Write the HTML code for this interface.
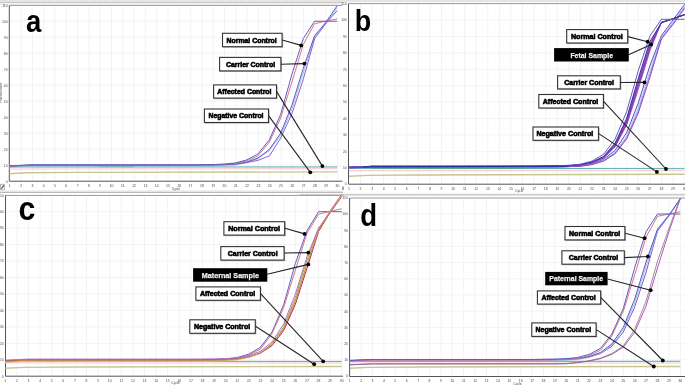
<!DOCTYPE html>
<html><head><meta charset="utf-8"><title>qPCR amplification panels</title>
<style>
html,body{margin:0;padding:0;background:#fff;width:685px;height:385px;overflow:hidden}
svg{display:block;filter:blur(0.6px)}
text{font-family:"Liberation Sans",sans-serif}
.yl{font-size:3.3px;fill:#444;text-anchor:end}
.xl{font-size:3.4px;fill:#444;text-anchor:middle}
.big{font-size:32px;font-weight:bold;fill:#000}
.lb{font-weight:bold;fill:#000;stroke:#000;stroke-width:0.6px}
.lbw{font-weight:bold;fill:#f2f2f2;stroke:#f2f2f2;stroke-width:0.25px}
</style></head>
<body><svg width="685" height="385" viewBox="0 0 685 385">
<rect x="0" y="0" width="685" height="385" fill="#fff"/>
<rect x="0" y="0" width="685" height="2.2" fill="#e4e4e4"/>
<path d="M0 2.6H343" stroke="#b4b4b4" stroke-width="0.8"/>
<rect x="0" y="3" width="343" height="2.2" fill="#f2f2f2"/>
<rect x="0" y="190.2" width="343" height="2.0" fill="#ededed"/>
<path d="M0 192.4H343" stroke="#a8a8a8" stroke-width="0.9"/>
<rect x="343" y="193.2" width="342" height="1.2" fill="#f2f2f2"/>
<path d="M300 194.9H685" stroke="#a8a8a8" stroke-width="0.9"/>
<rect x="0.4" y="184.2" width="4.2" height="5.6" fill="#f4f4f4" stroke="#9a9a9a" stroke-width="0.6"/>
<path d="M1.2 188.6L4.2 185.2" stroke="#555" stroke-width="1.2"/>
<path d="M343 186.6V190" stroke="#777" stroke-width="1.3"/>
<rect x="9.3" y="5.4" width="333" height="175.8" fill="#fff"/>
<path d="M21.1 5.4V181.2M32.4 5.4V181.2M43.7 5.4V181.2M55 5.4V181.2M66.3 5.4V181.2M77.6 5.4V181.2M88.9 5.4V181.2M100.2 5.4V181.2M111.5 5.4V181.2M122.8 5.4V181.2M134.1 5.4V181.2M145.4 5.4V181.2M156.7 5.4V181.2M168 5.4V181.2M179.3 5.4V181.2M190.6 5.4V181.2M201.9 5.4V181.2M213.2 5.4V181.2M224.5 5.4V181.2M235.8 5.4V181.2M247.1 5.4V181.2M258.4 5.4V181.2M269.7 5.4V181.2M281 5.4V181.2M292.3 5.4V181.2M303.6 5.4V181.2M314.9 5.4V181.2M326.2 5.4V181.2M337.5 5.4V181.2M9.3 165.2H342.3M9.3 149.2H342.3M9.3 133.2H342.3M9.3 117.2H342.3M9.3 101.2H342.3M9.3 85.2H342.3M9.3 69.2H342.3M9.3 53.2H342.3M9.3 37.2H342.3M9.3 21.2H342.3" stroke="#f3f3f3" stroke-width="1" fill="none"/>
<path d="M9.3 5.4H342.3" stroke="#9a9a9a" stroke-width="1"/>
<path d="M9.3 5.4V181.2H342.3" stroke="#555555" stroke-width="1.0" fill="none"/>
<text x="7.5" y="182.5" class="yl">0</text>
<text x="7.5" y="166.5" class="yl">10</text>
<text x="7.5" y="150.5" class="yl">20</text>
<text x="7.5" y="134.5" class="yl">30</text>
<text x="7.5" y="118.5" class="yl">40</text>
<text x="7.5" y="102.5" class="yl">50</text>
<text x="7.5" y="86.5" class="yl">60</text>
<text x="7.5" y="70.5" class="yl">70</text>
<text x="7.5" y="54.5" class="yl">80</text>
<text x="7.5" y="38.5" class="yl">90</text>
<text x="7.5" y="22.5" class="yl">100</text>
<text x="7.5" y="6.5" class="yl">110</text>
<text x="9.8" y="186.8" class="xl">1</text>
<text x="21.1" y="186.8" class="xl">2</text>
<text x="32.4" y="186.8" class="xl">3</text>
<text x="43.7" y="186.8" class="xl">4</text>
<text x="55" y="186.8" class="xl">5</text>
<text x="66.3" y="186.8" class="xl">6</text>
<text x="77.6" y="186.8" class="xl">7</text>
<text x="88.9" y="186.8" class="xl">8</text>
<text x="100.2" y="186.8" class="xl">9</text>
<text x="111.5" y="186.8" class="xl">10</text>
<text x="122.8" y="186.8" class="xl">11</text>
<text x="134.1" y="186.8" class="xl">12</text>
<text x="145.4" y="186.8" class="xl">13</text>
<text x="156.7" y="186.8" class="xl">14</text>
<text x="168" y="186.8" class="xl">15</text>
<text x="179.3" y="186.8" class="xl">16</text>
<text x="190.6" y="186.8" class="xl">17</text>
<text x="201.9" y="186.8" class="xl">18</text>
<text x="213.2" y="186.8" class="xl">19</text>
<text x="224.5" y="186.8" class="xl">20</text>
<text x="235.8" y="186.8" class="xl">21</text>
<text x="247.1" y="186.8" class="xl">22</text>
<text x="258.4" y="186.8" class="xl">23</text>
<text x="269.7" y="186.8" class="xl">24</text>
<text x="281" y="186.8" class="xl">25</text>
<text x="292.3" y="186.8" class="xl">26</text>
<text x="303.6" y="186.8" class="xl">27</text>
<text x="314.9" y="186.8" class="xl">28</text>
<text x="326.2" y="186.8" class="xl">29</text>
<text x="337.5" y="186.8" class="xl">30</text>
<text x="176" y="189.6" class="xl">Cycle</text>
<text transform="translate(1.9 92.7) rotate(-90)" class="xl">Fluorescence</text>
<text transform="translate(25.94 32.16) scale(0.860 0.960)" class="big">a</text>
<path d="M9.45 173.68 L27.53 172.8 L77.25 172.4 L337.15 171.92" stroke="#c6c690" stroke-width="1.4" fill="none"/>
<path d="M9.45 169.04L337.15 168.72" stroke="#f6c8ce" stroke-width="1" fill="none"/>
<path d="M9.45 166.96L337.15 166.96" stroke="#5aa8a8" stroke-width="1" fill="none"/>
<path d="M99.85 166.64L133.75 166.72" stroke="#48b078" stroke-width="0.9" fill="none"/>
<path d="M9.45 167.12 L20.75 166.64 L32.05 166.16 L43.35 166.16 L54.65 166.16 L65.95 166.16 L77.25 166.16 L88.55 166.16 L99.85 166.16 L111.15 166.16 L122.45 166.16 L133.75 166.16 L145.05 166.16 L156.35 166.16 L167.65 166.16 L178.95 166.16 L190.25 166.16 L201.55 166.09 L212.85 166.01 L224.15 165.72 L235.45 164.88 L246.75 162.75 L258.05 158.76 L269.35 150.62 L280.65 135.32 L291.95 108.84 L303.25 73.18 L314.55 37.2 L325.85 24.07 L337.15 7.98" stroke="#88bedc" stroke-width="0.9" fill="none" stroke-linejoin="round"/>
<path d="M9.45 165.92 L20.75 165.44 L32.05 164.96 L43.35 164.96 L54.65 164.96 L65.95 164.96 L77.25 164.96 L88.55 164.96 L99.85 164.96 L111.15 164.96 L122.45 164.96 L133.75 164.96 L145.05 164.96 L156.35 164.96 L167.65 164.96 L178.95 164.96 L190.25 164.96 L201.55 164.9 L212.85 164.82 L224.15 164.58 L235.45 164.09 L246.75 162.5 L258.05 160.34 L269.35 155.92 L280.65 138.1 L291.95 113.6 L303.25 79.44 L314.55 38.8 L325.85 23.12 L337.15 10.78" stroke="#9a5ad0" stroke-width="1" fill="none" stroke-linejoin="round"/>
<path d="M9.45 166.16 L20.75 165.68 L32.05 165.2 L43.35 165.2 L54.65 165.2 L65.95 165.2 L77.25 165.2 L88.55 165.2 L99.85 165.2 L111.15 165.2 L122.45 165.2 L133.75 165.2 L145.05 165.2 L156.35 165.2 L167.65 165.2 L178.95 165.2 L190.25 165.2 L201.55 165.12 L212.85 165.04 L224.15 164.72 L235.45 164.08 L246.75 162 L258.05 158 L269.35 149.52 L280.65 133.2 L291.95 105.2 L303.25 68.4 L314.55 35.76 L325.85 22.32 L337.15 5.84" stroke="#5a58d0" stroke-width="1" fill="none" stroke-linejoin="round"/>
<path d="M9.45 166 L20.75 165.52 L32.05 165.04 L43.35 165.04 L54.65 165.04 L65.95 165.04 L77.25 165.04 L88.55 165.04 L99.85 165.04 L111.15 165.04 L122.45 165.04 L133.75 165.04 L145.05 165.04 L156.35 165.04 L167.65 165.04 L178.95 165.04 L190.25 165.04 L201.55 164.88 L212.85 164.72 L224.15 164.24 L235.45 163.48 L246.75 160.96 L258.05 155.88 L269.35 142 L280.65 118 L291.95 82 L303.25 44.4 L314.55 23.76 L325.85 21.2 L337.15 18.8" stroke="#dc7486" stroke-width="1" fill="none" stroke-linejoin="round"/>
<path d="M9.45 165.84 L20.75 165.36 L32.05 164.88 L43.35 164.88 L54.65 164.88 L65.95 164.88 L77.25 164.88 L88.55 164.88 L99.85 164.88 L111.15 164.88 L122.45 164.88 L133.75 164.88 L145.05 164.88 L156.35 164.88 L167.65 164.88 L178.95 164.88 L190.25 164.88 L201.55 164.72 L212.85 164.56 L224.15 164.08 L235.45 162.88 L246.75 159.92 L258.05 153.92 L269.35 139.76 L280.65 114.48 L291.95 74.16 L303.25 38.64 L314.55 21.2 L325.85 21.2 L337.15 21.2" stroke="#5860c8" stroke-width="1" fill="none" stroke-linejoin="round"/>
<rect x="223" y="33.8" width="60.2" height="14" fill="#b8b8b8"/>
<rect x="222.5" y="33.3" width="59.6" height="13.4" fill="#fff" stroke="#333" stroke-width="1.1"/>
<text x="226.5" y="42.65" class="lb" textLength="50.2" lengthAdjust="spacingAndGlyphs" style="font-size:7.15px">Normal Control</text>
<rect x="220.1" y="57.9" width="61.9" height="14.1" fill="#b8b8b8"/>
<rect x="219.6" y="57.4" width="61.3" height="13.5" fill="#fff" stroke="#333" stroke-width="1.1"/>
<text x="226" y="66.8" class="lb" textLength="49.2" lengthAdjust="spacingAndGlyphs" style="font-size:7.15px">Carrier Control</text>
<rect x="214.1" y="85.4" width="63.5" height="13.8" fill="#b8b8b8"/>
<rect x="213.6" y="84.9" width="62.9" height="13.2" fill="#fff" stroke="#333" stroke-width="1.1"/>
<text x="217.3" y="94.15" class="lb" textLength="54.2" lengthAdjust="spacingAndGlyphs" style="font-size:7.15px">Affected Control</text>
<rect x="204.9" y="109.5" width="64.7" height="14.1" fill="#b8b8b8"/>
<rect x="204.4" y="109" width="64.1" height="13.5" fill="#fff" stroke="#333" stroke-width="1.1"/>
<text x="208.5" y="118.4" class="lb" textLength="55" lengthAdjust="spacingAndGlyphs" style="font-size:7.15px">Negative Control</text>
<path d="M282.2 40L301.2 45.4" stroke="#262626" stroke-width="1.1"/>
<circle cx="301.2" cy="45.4" r="1.9" fill="#000"/>
<path d="M281 64.2L304.4 63.6" stroke="#262626" stroke-width="1.1"/>
<circle cx="304.4" cy="63.6" r="1.9" fill="#000"/>
<path d="M276.7 91.6L322.4 166.1" stroke="#262626" stroke-width="1.1"/>
<circle cx="322.4" cy="166.1" r="1.9" fill="#000"/>
<path d="M268.7 115.8L310.3 172.3" stroke="#262626" stroke-width="1.1"/>
<circle cx="310.3" cy="172.3" r="1.9" fill="#000"/>
<rect x="348.5" y="3.6" width="337.5" height="180.6" fill="#fff"/>
<path d="M360.5 3.6V184.2M372.08 3.6V184.2M383.65 3.6V184.2M395.22 3.6V184.2M406.8 3.6V184.2M418.37 3.6V184.2M429.94 3.6V184.2M441.51 3.6V184.2M453.09 3.6V184.2M464.66 3.6V184.2M476.23 3.6V184.2M487.81 3.6V184.2M499.38 3.6V184.2M510.95 3.6V184.2M522.52 3.6V184.2M534.1 3.6V184.2M545.67 3.6V184.2M557.24 3.6V184.2M568.82 3.6V184.2M580.39 3.6V184.2M591.96 3.6V184.2M603.54 3.6V184.2M615.11 3.6V184.2M626.68 3.6V184.2M638.25 3.6V184.2M649.83 3.6V184.2M661.4 3.6V184.2M672.97 3.6V184.2M684.55 3.6V184.2M348.5 167.7H686M348.5 151.3H686M348.5 134.9H686M348.5 118.5H686M348.5 102.1H686M348.5 85.7H686M348.5 69.3H686M348.5 52.9H686M348.5 36.5H686M348.5 20.1H686" stroke="#f3f3f3" stroke-width="1" fill="none"/>
<path d="M348.5 3.6H686" stroke="#9a9a9a" stroke-width="1"/>
<path d="M348.5 3.6V184.2H686" stroke="#555555" stroke-width="1.0" fill="none"/>
<text x="346.7" y="185.4" class="yl">0</text>
<text x="346.7" y="169" class="yl">10</text>
<text x="346.7" y="152.6" class="yl">20</text>
<text x="346.7" y="136.2" class="yl">30</text>
<text x="346.7" y="119.8" class="yl">40</text>
<text x="346.7" y="103.4" class="yl">50</text>
<text x="346.7" y="87" class="yl">60</text>
<text x="346.7" y="70.6" class="yl">70</text>
<text x="346.7" y="54.2" class="yl">80</text>
<text x="346.7" y="37.8" class="yl">90</text>
<text x="346.7" y="21.4" class="yl">100</text>
<text x="346.7" y="5" class="yl">110</text>
<text x="348.93" y="189.8" class="xl">1</text>
<text x="360.5" y="189.8" class="xl">2</text>
<text x="372.08" y="189.8" class="xl">3</text>
<text x="383.65" y="189.8" class="xl">4</text>
<text x="395.22" y="189.8" class="xl">5</text>
<text x="406.8" y="189.8" class="xl">6</text>
<text x="418.37" y="189.8" class="xl">7</text>
<text x="429.94" y="189.8" class="xl">8</text>
<text x="441.51" y="189.8" class="xl">9</text>
<text x="453.09" y="189.8" class="xl">10</text>
<text x="464.66" y="189.8" class="xl">11</text>
<text x="476.23" y="189.8" class="xl">12</text>
<text x="487.81" y="189.8" class="xl">13</text>
<text x="499.38" y="189.8" class="xl">14</text>
<text x="510.95" y="189.8" class="xl">15</text>
<text x="522.52" y="189.8" class="xl">16</text>
<text x="534.1" y="189.8" class="xl">17</text>
<text x="545.67" y="189.8" class="xl">18</text>
<text x="557.24" y="189.8" class="xl">19</text>
<text x="568.82" y="189.8" class="xl">20</text>
<text x="580.39" y="189.8" class="xl">21</text>
<text x="591.96" y="189.8" class="xl">22</text>
<text x="603.54" y="189.8" class="xl">23</text>
<text x="615.11" y="189.8" class="xl">24</text>
<text x="626.68" y="189.8" class="xl">25</text>
<text x="638.25" y="189.8" class="xl">26</text>
<text x="649.83" y="189.8" class="xl">27</text>
<text x="661.4" y="189.8" class="xl">28</text>
<text x="672.97" y="189.8" class="xl">29</text>
<text x="684.55" y="189.8" class="xl">30</text>
<text x="519.2" y="192.4" class="xl">Cycle</text>
<text transform="translate(354.81 31.26) scale(0.843 0.945)" class="big">b</text>
<path d="M348.93 176.31 L367.45 175.41 L418.37 175 L684.55 174.26" stroke="#c6c690" stroke-width="1.4" fill="none"/>
<path d="M348.93 170.65L684.55 170.65" stroke="#f6c8ce" stroke-width="1" fill="none"/>
<path d="M348.93 168.36L684.55 168.68" stroke="#5aa8a8" stroke-width="1" fill="none"/>
<path d="M372.08 168.19L522.52 168.36" stroke="#48b078" stroke-width="0.9" fill="none"/>
<path d="M348.93 168.03 L360.5 167.54 L372.08 167.04 L383.65 167.04 L395.22 167.04 L406.8 167.04 L418.37 167.04 L429.94 167.04 L441.51 167.04 L453.09 167.04 L464.66 167.04 L476.23 167.04 L487.81 167.04 L499.38 167.04 L510.95 167.04 L522.52 167.04 L534.1 167.04 L545.67 166.96 L557.24 166.85 L568.82 166.5 L580.39 165.89 L591.96 163.76 L603.54 159.46 L615.11 150.29 L626.68 132.6 L638.25 103.18 L649.83 65.8 L661.4 35.68 L672.97 19.9 L684.55 4.36" stroke="#4a50d0" stroke-width="1" fill="none" stroke-linejoin="round"/>
<path d="M348.93 168.03 L360.5 167.54 L372.08 167.04 L383.65 167.04 L395.22 167.04 L406.8 167.04 L418.37 167.04 L429.94 167.04 L441.51 167.04 L453.09 167.04 L464.66 167.04 L476.23 167.04 L487.81 167.04 L499.38 167.04 L510.95 167.04 L522.52 167.04 L534.1 167.04 L545.67 166.97 L557.24 166.88 L568.82 166.57 L580.39 166.1 L591.96 164.22 L603.54 160.4 L615.11 152.15 L626.68 135.9 L638.25 107.92 L649.83 70.74 L661.4 36.83 L672.97 22.07 L684.55 5.37" stroke="#8ac8e8" stroke-width="0.8" fill="none" stroke-linejoin="round"/>
<path d="M348.93 168.03 L360.5 167.54 L372.08 167.04 L383.65 167.04 L395.22 167.04 L406.8 167.04 L418.37 167.04 L429.94 167.04 L441.51 167.04 L453.09 167.04 L464.66 167.04 L476.23 167.04 L487.81 167.04 L499.38 167.04 L510.95 167.04 L522.52 167.04 L534.1 167.04 L545.67 166.98 L557.24 166.89 L568.82 166.6 L580.39 166.16 L591.96 164.43 L603.54 160.81 L615.11 153.02 L626.68 137.58 L638.25 110.79 L649.83 74.52 L661.4 38.14 L672.97 23.45 L684.55 7.06" stroke="#b070d0" stroke-width="0.9" fill="none" stroke-linejoin="round"/>
<path d="M348.93 168.03 L360.5 167.54 L372.08 167.04 L383.65 167.04 L395.22 167.04 L406.8 167.04 L418.37 167.04 L429.94 167.04 L441.51 167.04 L453.09 167.04 L464.66 167.04 L476.23 167.04 L487.81 167.04 L499.38 167.04 L510.95 167.04 L522.52 167.04 L534.1 167.04 L545.67 166.98 L557.24 166.9 L568.82 166.63 L580.39 166.22 L591.96 164.6 L603.54 161.14 L615.11 153.71 L626.68 138.91 L638.25 113.09 L649.83 77.53 L661.4 38.96 L672.97 24.55 L684.55 8.41" stroke="#9048c0" stroke-width="1" fill="none" stroke-linejoin="round"/>
<path d="M348.93 167.37 L360.5 166.88 L372.08 166.39 L383.65 166.39 L395.22 166.39 L406.8 166.39 L418.37 166.39 L429.94 166.39 L441.51 166.39 L453.09 166.39 L464.66 166.39 L476.23 166.39 L487.81 166.39 L499.38 166.39 L510.95 166.39 L522.52 166.39 L534.1 166.39 L545.67 166.28 L557.24 166.12 L568.82 165.75 L580.39 165.06 L591.96 162.92 L603.54 158.14 L615.11 146.88 L626.68 125.04 L638.25 89.26 L649.83 51.08 L661.4 22.3 L672.97 18.79 L684.55 14.69" stroke="#9a58c8" stroke-width="1" fill="none" stroke-linejoin="round"/>
<path d="M348.93 167.37 L360.5 166.88 L372.08 166.39 L383.65 166.39 L395.22 166.39 L406.8 166.39 L418.37 166.39 L429.94 166.39 L441.51 166.39 L453.09 166.39 L464.66 166.39 L476.23 166.39 L487.81 166.39 L499.38 166.39 L510.95 166.39 L522.52 166.39 L534.1 166.39 L545.67 166.27 L557.24 166.11 L568.82 165.72 L580.39 164.98 L591.96 162.73 L603.54 157.76 L615.11 146 L626.68 123.49 L638.25 86.78 L649.83 48.9 L661.4 22.4 L672.97 18.79 L684.55 14.69" stroke="#8a40b0" stroke-width="1" fill="none" stroke-linejoin="round"/>
<path d="M348.93 167.37 L360.5 166.88 L372.08 166.39 L383.65 166.39 L395.22 166.39 L406.8 166.39 L418.37 166.39 L429.94 166.39 L441.51 166.39 L453.09 166.39 L464.66 166.39 L476.23 166.39 L487.81 166.39 L499.38 166.39 L510.95 166.39 L522.52 166.39 L534.1 166.39 L545.67 166.26 L557.24 166.1 L568.82 165.69 L580.39 164.91 L591.96 162.57 L603.54 157.45 L615.11 145.27 L626.68 122.19 L638.25 84.72 L649.83 47.08 L661.4 22.48 L672.97 18.79 L684.55 14.69" stroke="#7a3ab8" stroke-width="1" fill="none" stroke-linejoin="round"/>
<path d="M348.93 167.37 L360.5 166.88 L372.08 166.39 L383.65 166.39 L395.22 166.39 L406.8 166.39 L418.37 166.39 L429.94 166.39 L441.51 166.39 L453.09 166.39 L464.66 166.39 L476.23 166.39 L487.81 166.39 L499.38 166.39 L510.95 166.39 L522.52 166.39 L534.1 166.39 L545.67 166.26 L557.24 166.09 L568.82 165.67 L580.39 164.85 L591.96 162.42 L603.54 157.14 L615.11 144.54 L626.68 120.89 L638.25 82.65 L649.83 45.26 L661.4 22.56 L672.97 18.79 L684.55 14.69" stroke="#6a3ab8" stroke-width="1" fill="none" stroke-linejoin="round"/>
<path d="M348.93 167.37 L360.5 166.88 L372.08 166.39 L383.65 166.39 L395.22 166.39 L406.8 166.39 L418.37 166.39 L429.94 166.39 L441.51 166.39 L453.09 166.39 L464.66 166.39 L476.23 166.39 L487.81 166.39 L499.38 166.39 L510.95 166.39 L522.52 166.39 L534.1 166.39 L545.67 166.25 L557.24 166.08 L568.82 165.64 L580.39 164.78 L591.96 162.26 L603.54 156.83 L615.11 143.81 L626.68 119.6 L638.25 80.58 L649.83 43.44 L661.4 22.64 L672.97 18.79 L684.55 14.69" stroke="#b04a90" stroke-width="1" fill="none" stroke-linejoin="round"/>
<path d="M348.93 167.37 L360.5 166.88 L372.08 166.39 L383.65 166.39 L395.22 166.39 L406.8 166.39 L418.37 166.39 L429.94 166.39 L441.51 166.39 L453.09 166.39 L464.66 166.39 L476.23 166.39 L487.81 166.39 L499.38 166.39 L510.95 166.39 L522.52 166.39 L534.1 166.39 L545.67 166.24 L557.24 166.08 L568.82 165.62 L580.39 164.72 L591.96 162.11 L603.54 156.52 L615.11 143.08 L626.68 118.3 L638.25 78.52 L649.83 41.62 L661.4 22.72 L672.97 18.79 L684.55 14.69" stroke="#3a2aa8" stroke-width="1" fill="none" stroke-linejoin="round"/>
<path d="M348.93 167.21 L360.5 166.72 L372.08 166.22 L383.65 166.22 L395.22 166.22 L406.8 166.22 L418.37 166.22 L429.94 166.22 L441.51 166.22 L453.09 166.22 L464.66 166.22 L476.23 166.22 L487.81 166.22 L499.38 166.22 L510.95 166.22 L522.52 166.22 L534.1 166.21 L545.67 166.04 L557.24 165.85 L568.82 165.27 L580.39 164.15 L591.96 161.09 L603.54 154.39 L615.11 139.03 L626.68 111.58 L638.25 70.74 L649.83 36.19 L661.4 19.28 L672.97 19.28 L684.55 19.28" stroke="#5860c8" stroke-width="1" fill="none" stroke-linejoin="round"/>
<path d="M362.82 166.88L568.82 166.22" stroke="#2830a0" stroke-width="1.2" fill="none"/>
<rect x="567.2" y="30.1" width="61.6" height="14" fill="#b8b8b8"/>
<rect x="566.7" y="29.6" width="61" height="13.4" fill="#fff" stroke="#333" stroke-width="1.1"/>
<text x="570.9" y="38.95" class="lb" textLength="51.9" lengthAdjust="spacingAndGlyphs" style="font-size:7.15px">Normal Control</text>
<rect x="554.1" y="48.1" width="74.7" height="13.4" fill="#000"/>
<text x="570.4" y="57.55" class="lbw" textLength="42.7" lengthAdjust="spacingAndGlyphs" style="font-size:7.9px">Fetal Sample</text>
<rect x="558.1" y="76.3" width="63.3" height="13.7" fill="#b8b8b8"/>
<rect x="557.6" y="75.8" width="62.7" height="13.1" fill="#fff" stroke="#333" stroke-width="1.1"/>
<text x="564.2" y="85" class="lb" textLength="49.8" lengthAdjust="spacingAndGlyphs" style="font-size:7.15px">Carrier Control</text>
<rect x="539.3" y="95" width="65.2" height="14.1" fill="#b8b8b8"/>
<rect x="538.8" y="94.5" width="64.6" height="13.5" fill="#fff" stroke="#333" stroke-width="1.1"/>
<text x="542.7" y="103.9" class="lb" textLength="55.5" lengthAdjust="spacingAndGlyphs" style="font-size:7.15px">Affected Control</text>
<rect x="533.5" y="127.5" width="66.1" height="13.9" fill="#b8b8b8"/>
<rect x="533" y="127" width="65.5" height="13.3" fill="#fff" stroke="#333" stroke-width="1.1"/>
<text x="536.4" y="136.3" class="lb" textLength="56.9" lengthAdjust="spacingAndGlyphs" style="font-size:7.15px">Negative Control</text>
<path d="M627.8 36.6L647.6 41.7" stroke="#262626" stroke-width="1.1"/>
<circle cx="647.6" cy="41.7" r="1.9" fill="#000"/>
<path d="M628.6 54.8L651.2 44.4" stroke="#262626" stroke-width="1.1"/>
<circle cx="651.2" cy="44.4" r="1.9" fill="#000"/>
<path d="M620.4 82.5L644.5 82.4" stroke="#262626" stroke-width="1.1"/>
<circle cx="644.5" cy="82.4" r="1.9" fill="#000"/>
<path d="M603.6 101.4L666 169" stroke="#262626" stroke-width="1.1"/>
<circle cx="666" cy="169" r="1.9" fill="#000"/>
<path d="M598.7 133.6L656.9 171.9" stroke="#262626" stroke-width="1.1"/>
<circle cx="656.9" cy="171.9" r="1.9" fill="#000"/>
<rect x="5.5" y="195.4" width="337.5" height="180.8" fill="#fff"/>
<path d="M16.9 195.4V376.2M28.5 195.4V376.2M40.1 195.4V376.2M51.7 195.4V376.2M63.3 195.4V376.2M74.9 195.4V376.2M86.5 195.4V376.2M98.1 195.4V376.2M109.7 195.4V376.2M121.3 195.4V376.2M132.9 195.4V376.2M144.5 195.4V376.2M156.1 195.4V376.2M167.7 195.4V376.2M179.3 195.4V376.2M190.9 195.4V376.2M202.5 195.4V376.2M214.1 195.4V376.2M225.7 195.4V376.2M237.3 195.4V376.2M248.9 195.4V376.2M260.5 195.4V376.2M272.1 195.4V376.2M283.7 195.4V376.2M295.3 195.4V376.2M306.9 195.4V376.2M318.5 195.4V376.2M330.1 195.4V376.2M341.7 195.4V376.2M5.5 359.75H343M5.5 343.3H343M5.5 326.85H343M5.5 310.4H343M5.5 293.95H343M5.5 277.5H343M5.5 261.05H343M5.5 244.6H343M5.5 228.15H343M5.5 211.7H343" stroke="#f3f3f3" stroke-width="1" fill="none"/>
<path d="M5.5 195.4H343" stroke="#9a9a9a" stroke-width="1"/>
<path d="M5.5 195.4V376.2H343" stroke="#555555" stroke-width="1.0" fill="none"/>
<text x="3.7" y="377.5" class="yl">0</text>
<text x="3.7" y="361.05" class="yl">10</text>
<text x="3.7" y="344.6" class="yl">20</text>
<text x="3.7" y="328.15" class="yl">30</text>
<text x="3.7" y="311.7" class="yl">40</text>
<text x="3.7" y="295.25" class="yl">50</text>
<text x="3.7" y="278.8" class="yl">60</text>
<text x="3.7" y="262.35" class="yl">70</text>
<text x="3.7" y="245.9" class="yl">80</text>
<text x="3.7" y="229.45" class="yl">90</text>
<text x="3.7" y="213" class="yl">100</text>
<text x="3.7" y="196.55" class="yl">110</text>
<text x="5.3" y="381.8" class="xl">1</text>
<text x="16.9" y="381.8" class="xl">2</text>
<text x="28.5" y="381.8" class="xl">3</text>
<text x="40.1" y="381.8" class="xl">4</text>
<text x="51.7" y="381.8" class="xl">5</text>
<text x="63.3" y="381.8" class="xl">6</text>
<text x="74.9" y="381.8" class="xl">7</text>
<text x="86.5" y="381.8" class="xl">8</text>
<text x="98.1" y="381.8" class="xl">9</text>
<text x="109.7" y="381.8" class="xl">10</text>
<text x="121.3" y="381.8" class="xl">11</text>
<text x="132.9" y="381.8" class="xl">12</text>
<text x="144.5" y="381.8" class="xl">13</text>
<text x="156.1" y="381.8" class="xl">14</text>
<text x="167.7" y="381.8" class="xl">15</text>
<text x="179.3" y="381.8" class="xl">16</text>
<text x="190.9" y="381.8" class="xl">17</text>
<text x="202.5" y="381.8" class="xl">18</text>
<text x="214.1" y="381.8" class="xl">19</text>
<text x="225.7" y="381.8" class="xl">20</text>
<text x="237.3" y="381.8" class="xl">21</text>
<text x="248.9" y="381.8" class="xl">22</text>
<text x="260.5" y="381.8" class="xl">23</text>
<text x="272.1" y="381.8" class="xl">24</text>
<text x="283.7" y="381.8" class="xl">25</text>
<text x="295.3" y="381.8" class="xl">26</text>
<text x="306.9" y="381.8" class="xl">27</text>
<text x="318.5" y="381.8" class="xl">28</text>
<text x="330.1" y="381.8" class="xl">29</text>
<text x="341.7" y="381.8" class="xl">30</text>
<text x="175.5" y="384.3" class="xl">Cycle</text>
<text transform="translate(18.41 220.04) scale(0.948 1.034)" class="big">c</text>
<path d="M5.3 368.3 L23.86 367.4 L74.9 366.99 L341.7 366.49" stroke="#c6c690" stroke-width="1.4" fill="none"/>
<path d="M5.3 362.88L341.7 363.04" stroke="#f6c8ce" stroke-width="1" fill="none"/>
<path d="M5.3 361.23L341.7 361.39" stroke="#5aa8a8" stroke-width="1" fill="none"/>
<path d="M5.3 360.9 L16.9 360.41 L28.5 359.91 L40.1 359.91 L51.7 359.91 L63.3 359.91 L74.9 359.91 L86.5 359.91 L98.1 359.91 L109.7 359.91 L121.3 359.91 L132.9 359.91 L144.5 359.91 L156.1 359.91 L167.7 359.91 L179.3 359.91 L190.9 359.9 L202.5 359.74 L214.1 359.55 L225.7 359 L237.3 357.52 L248.9 354.13 L260.5 347.25 L272.1 331.78 L283.7 304.7 L295.3 263.59 L306.9 230.95 L318.5 211.7 L330.1 211.7 L341.7 211.7" stroke="#5860c8" stroke-width="1" fill="none" stroke-linejoin="round"/>
<path d="M5.3 361.39 L16.9 360.9 L28.5 360.41 L40.1 360.41 L51.7 360.41 L63.3 360.41 L74.9 360.41 L86.5 360.41 L98.1 360.41 L109.7 360.41 L121.3 360.41 L132.9 360.41 L144.5 360.41 L156.1 360.41 L167.7 360.41 L179.3 360.41 L190.9 360.39 L202.5 360.23 L214.1 360.03 L225.7 359.5 L237.3 358.34 L248.9 355.28 L260.5 348.94 L272.1 333.43 L283.7 307.52 L295.3 270.34 L306.9 233.43 L318.5 214.17 L330.1 211.37 L341.7 208.74" stroke="#dc7486" stroke-width="1" fill="none" stroke-linejoin="round"/>
<path d="M5.3 360.74 L16.9 360.24 L28.5 359.75 L40.1 359.75 L51.7 359.75 L63.3 359.75 L74.9 359.75 L86.5 359.75 L98.1 359.75 L109.7 359.75 L121.3 359.75 L132.9 359.75 L144.5 359.75 L156.1 359.75 L167.7 359.75 L179.3 359.75 L190.9 359.75 L202.5 359.69 L214.1 359.6 L225.7 359.33 L237.3 358.74 L248.9 356.93 L260.5 353.25 L272.1 345.55 L283.7 330.54 L295.3 304.4 L306.9 268.55 L318.5 231.6 L330.1 212.36 L341.7 195.58" stroke="#b02848" stroke-width="1" fill="none" stroke-linejoin="round"/>
<path d="M5.3 361.89 L16.9 361.39 L28.5 360.9 L40.1 360.9 L51.7 360.9 L63.3 360.9 L74.9 360.9 L86.5 360.9 L98.1 360.9 L109.7 360.9 L121.3 360.9 L132.9 360.9 L144.5 360.9 L156.1 360.9 L167.7 360.9 L179.3 360.9 L190.9 360.9 L202.5 360.82 L214.1 360.74 L225.7 360.41 L237.3 359.46 L248.9 357.04 L260.5 352.64 L272.1 343.63 L283.7 326.85 L295.3 298.06 L306.9 260.23 L318.5 228.81 L330.1 211.37 L341.7 194.92" stroke="#88a850" stroke-width="1" fill="none" stroke-linejoin="round"/>
<path d="M5.3 362.22 L16.9 361.72 L28.5 361.23 L40.1 361.23 L51.7 361.23 L63.3 361.23 L74.9 361.23 L86.5 361.23 L98.1 361.23 L109.7 361.23 L121.3 361.23 L132.9 361.23 L144.5 361.23 L156.1 361.23 L167.7 361.23 L179.3 361.23 L190.9 361.23 L202.5 361.15 L214.1 361.07 L225.7 360.76 L237.3 359.76 L248.9 357.37 L260.5 353.05 L272.1 344.33 L283.7 328.19 L295.3 300.37 L306.9 263.25 L318.5 229.47 L330.1 211.7 L341.7 195.25" stroke="#d8c878" stroke-width="1" fill="none" stroke-linejoin="round"/>
<path d="M5.3 360.08 L16.9 359.59 L28.5 359.09 L40.1 359.09 L51.7 359.09 L63.3 359.09 L74.9 359.09 L86.5 359.09 L98.1 359.09 L109.7 359.09 L121.3 359.09 L132.9 359.09 L144.5 359.09 L156.1 359.09 L167.7 359.09 L179.3 359.09 L190.9 359.08 L202.5 359 L214.1 358.89 L225.7 358.53 L237.3 357.89 L248.9 355.72 L260.5 351.31 L272.1 341.95 L283.7 323.97 L295.3 294.28 L306.9 256.87 L318.5 228.15 L330.1 213.02 L341.7 196.89" stroke="#b070c8" stroke-width="1" fill="none" stroke-linejoin="round"/>
<path d="M5.3 361.23 L16.9 360.74 L28.5 360.24 L40.1 360.24 L51.7 360.24 L63.3 360.24 L74.9 360.24 L86.5 360.24 L98.1 360.24 L109.7 360.24 L121.3 360.24 L132.9 360.24 L144.5 360.24 L156.1 360.24 L167.7 360.24 L179.3 360.24 L190.9 360.24 L202.5 360.17 L214.1 360.09 L225.7 359.79 L237.3 359.05 L248.9 356.96 L260.5 352.96 L272.1 344.68 L283.7 328.86 L295.3 301.52 L306.9 264.77 L318.5 230.12 L330.1 210.88 L341.7 194.26" stroke="#d08050" stroke-width="1" fill="none" stroke-linejoin="round"/>
<rect x="224.4" y="222.2" width="61.4" height="14" fill="#b8b8b8"/>
<rect x="223.9" y="221.7" width="60.8" height="13.4" fill="#fff" stroke="#333" stroke-width="1.1"/>
<text x="228.2" y="231.05" class="lb" textLength="51.9" lengthAdjust="spacingAndGlyphs" style="font-size:7.15px">Normal Control</text>
<rect x="221.3" y="247.1" width="63.9" height="14.1" fill="#b8b8b8"/>
<rect x="220.8" y="246.6" width="63.3" height="13.5" fill="#fff" stroke="#333" stroke-width="1.1"/>
<text x="227.8" y="256" class="lb" textLength="49.8" lengthAdjust="spacingAndGlyphs" style="font-size:7.15px">Carrier Control</text>
<rect x="193.1" y="268.2" width="74.2" height="13.5" fill="#000"/>
<text x="201.8" y="277.7" class="lbw" textLength="57.1" lengthAdjust="spacingAndGlyphs" style="font-size:7.9px">Maternal Sample</text>
<rect x="196.4" y="287.4" width="65.1" height="14" fill="#b8b8b8"/>
<rect x="195.9" y="286.9" width="64.5" height="13.4" fill="#fff" stroke="#333" stroke-width="1.1"/>
<text x="199.9" y="296.25" class="lb" textLength="55.4" lengthAdjust="spacingAndGlyphs" style="font-size:7.15px">Affected Control</text>
<rect x="190.3" y="320.3" width="66.1" height="14.1" fill="#b8b8b8"/>
<rect x="189.8" y="319.8" width="65.5" height="13.5" fill="#fff" stroke="#333" stroke-width="1.1"/>
<text x="193.9" y="329.2" class="lb" textLength="56.3" lengthAdjust="spacingAndGlyphs" style="font-size:7.15px">Negative Control</text>
<path d="M284.9 228.2L304.6 233.9" stroke="#262626" stroke-width="1.1"/>
<circle cx="304.6" cy="233.9" r="1.9" fill="#000"/>
<path d="M284.3 253L308.3 252.6" stroke="#262626" stroke-width="1.1"/>
<circle cx="308.3" cy="252.6" r="1.9" fill="#000"/>
<path d="M267.2 274.2L308.3 264.4" stroke="#262626" stroke-width="1.1"/>
<circle cx="308.3" cy="264.4" r="1.9" fill="#000"/>
<path d="M260.6 293.6L323.2 361.3" stroke="#262626" stroke-width="1.1"/>
<circle cx="323.2" cy="361.3" r="1.9" fill="#000"/>
<path d="M255.5 326.3L314.2 364.2" stroke="#262626" stroke-width="1.1"/>
<circle cx="314.2" cy="364.2" r="1.9" fill="#000"/>
<rect x="349.6" y="198" width="336.4" height="178.5" fill="#fff"/>
<path d="M361.1 198V376.5M372.5 198V376.5M383.9 198V376.5M395.3 198V376.5M406.7 198V376.5M418.1 198V376.5M429.5 198V376.5M440.9 198V376.5M452.3 198V376.5M463.7 198V376.5M475.1 198V376.5M486.5 198V376.5M497.9 198V376.5M509.3 198V376.5M520.7 198V376.5M532.1 198V376.5M543.5 198V376.5M554.9 198V376.5M566.3 198V376.5M577.7 198V376.5M589.1 198V376.5M600.5 198V376.5M611.9 198V376.5M623.3 198V376.5M634.7 198V376.5M646.1 198V376.5M657.5 198V376.5M668.9 198V376.5M680.3 198V376.5M349.6 359.8H686M349.6 343.6H686M349.6 327.4H686M349.6 311.2H686M349.6 295H686M349.6 278.8H686M349.6 262.6H686M349.6 246.4H686M349.6 230.2H686M349.6 214H686" stroke="#f3f3f3" stroke-width="1" fill="none"/>
<path d="M349.6 198H686" stroke="#9a9a9a" stroke-width="1"/>
<path d="M349.6 198V376.5H686" stroke="#555555" stroke-width="1.0" fill="none"/>
<text x="347.8" y="377.3" class="yl">0</text>
<text x="347.8" y="361.1" class="yl">10</text>
<text x="347.8" y="344.9" class="yl">20</text>
<text x="347.8" y="328.7" class="yl">30</text>
<text x="347.8" y="312.5" class="yl">40</text>
<text x="347.8" y="296.3" class="yl">50</text>
<text x="347.8" y="280.1" class="yl">60</text>
<text x="347.8" y="263.9" class="yl">70</text>
<text x="347.8" y="247.7" class="yl">80</text>
<text x="347.8" y="231.5" class="yl">90</text>
<text x="347.8" y="215.3" class="yl">100</text>
<text x="347.8" y="199.1" class="yl">110</text>
<text x="349.7" y="382.1" class="xl">1</text>
<text x="361.1" y="382.1" class="xl">2</text>
<text x="372.5" y="382.1" class="xl">3</text>
<text x="383.9" y="382.1" class="xl">4</text>
<text x="395.3" y="382.1" class="xl">5</text>
<text x="406.7" y="382.1" class="xl">6</text>
<text x="418.1" y="382.1" class="xl">7</text>
<text x="429.5" y="382.1" class="xl">8</text>
<text x="440.9" y="382.1" class="xl">9</text>
<text x="452.3" y="382.1" class="xl">10</text>
<text x="463.7" y="382.1" class="xl">11</text>
<text x="475.1" y="382.1" class="xl">12</text>
<text x="486.5" y="382.1" class="xl">13</text>
<text x="497.9" y="382.1" class="xl">14</text>
<text x="509.3" y="382.1" class="xl">15</text>
<text x="520.7" y="382.1" class="xl">16</text>
<text x="532.1" y="382.1" class="xl">17</text>
<text x="543.5" y="382.1" class="xl">18</text>
<text x="554.9" y="382.1" class="xl">19</text>
<text x="566.3" y="382.1" class="xl">20</text>
<text x="577.7" y="382.1" class="xl">21</text>
<text x="589.1" y="382.1" class="xl">22</text>
<text x="600.5" y="382.1" class="xl">23</text>
<text x="611.9" y="382.1" class="xl">24</text>
<text x="623.3" y="382.1" class="xl">25</text>
<text x="634.7" y="382.1" class="xl">26</text>
<text x="646.1" y="382.1" class="xl">27</text>
<text x="657.5" y="382.1" class="xl">28</text>
<text x="668.9" y="382.1" class="xl">29</text>
<text x="680.3" y="382.1" class="xl">30</text>
<text x="517.5" y="384.6" class="xl">Cycle</text>
<text transform="translate(360.22 226.26) scale(0.862 0.970)" class="big">d</text>
<path d="M349.7 368.22 L367.94 367.33 L418.1 366.93 L680.3 366.44" stroke="#c6c690" stroke-width="1.4" fill="none"/>
<path d="M349.7 363.04L680.3 363.04" stroke="#f6c8ce" stroke-width="1" fill="none"/>
<path d="M349.7 361.42L680.3 361.26" stroke="#5aa8a8" stroke-width="1" fill="none"/>
<path d="M349.7 364.82 L361.1 364.34 L372.5 363.85 L383.9 363.85 L395.3 363.85 L406.7 363.85 L418.1 363.85 L429.5 363.85 L440.9 363.85 L452.3 363.85 L463.7 363.85 L475.1 363.85 L486.5 363.85 L497.9 363.85 L509.3 363.85 L520.7 363.85 L532.1 363.85 L543.5 363.85 L554.9 363.83 L566.3 363.69 L577.7 362.64 L589.1 361.06 L600.5 358.6 L611.9 354.3 L623.3 347.16 L634.7 332.23 L646.1 305.91 L657.5 267.94 L668.9 231.82 L680.3 198.45" stroke="#c050c8" stroke-width="1" fill="none" stroke-linejoin="round"/>
<path d="M349.7 364.82 L361.1 364.34 L372.5 363.85 L383.9 363.85 L395.3 363.85 L406.7 363.85 L418.1 363.85 L429.5 363.85 L440.9 363.85 L452.3 363.85 L463.7 363.85 L475.1 363.85 L486.5 363.85 L497.9 363.85 L509.3 363.85 L520.7 363.85 L532.1 363.85 L543.5 363.85 L554.9 363.82 L566.3 363.66 L577.7 362.43 L589.1 360.78 L600.5 358.15 L611.9 353.51 L623.3 345.86 L634.7 329.43 L646.1 301.1 L657.5 261.15 L668.9 228.58 L680.3 197.8" stroke="#7a7a7a" stroke-width="0.8" fill="none" stroke-linejoin="round"/>
<path d="M349.7 360.45 L361.1 359.96 L372.5 359.48 L383.9 359.48 L395.3 359.48 L406.7 359.48 L418.1 359.48 L429.5 359.48 L440.9 359.48 L452.3 359.48 L463.7 359.48 L475.1 359.48 L486.5 359.48 L497.9 359.48 L509.3 359.48 L520.7 359.48 L532.1 359.48 L543.5 359.42 L554.9 359.34 L566.3 359.08 L577.7 358.6 L589.1 356.99 L600.5 353.56 L611.9 346.33 L623.3 332.03 L634.7 306.99 L646.1 272.22 L657.5 231.01 L668.9 215.94 L680.3 198.77" stroke="#8a58c8" stroke-width="1" fill="none" stroke-linejoin="round"/>
<path d="M349.7 361.74 L361.1 361.26 L372.5 360.77 L383.9 360.77 L395.3 360.77 L406.7 360.77 L418.1 360.77 L429.5 360.77 L440.9 360.77 L452.3 360.77 L463.7 360.77 L475.1 360.77 L486.5 360.77 L497.9 360.77 L509.3 360.77 L520.7 360.77 L532.1 360.77 L543.5 360.7 L554.9 360.62 L566.3 360.33 L577.7 359.48 L589.1 357.32 L600.5 353.28 L611.9 345.04 L623.3 329.55 L634.7 302.74 L646.1 266.63 L657.5 229.88 L668.9 215.46 L680.3 198.77" stroke="#88bedc" stroke-width="0.9" fill="none" stroke-linejoin="round"/>
<path d="M349.7 360.77 L361.1 360.29 L372.5 359.8 L383.9 359.8 L395.3 359.8 L406.7 359.8 L418.1 359.8 L429.5 359.8 L440.9 359.8 L452.3 359.8 L463.7 359.8 L475.1 359.8 L486.5 359.8 L497.9 359.8 L509.3 359.8 L520.7 359.8 L532.1 359.8 L543.5 359.72 L554.9 359.64 L566.3 359.31 L577.7 358.67 L589.1 356.56 L600.5 352.51 L611.9 343.92 L623.3 327.4 L634.7 299.05 L646.1 261.79 L657.5 229.07 L668.9 215.13 L680.3 198.77" stroke="#5a58d0" stroke-width="1" fill="none" stroke-linejoin="round"/>
<path d="M349.7 361.1 L361.1 360.61 L372.5 360.12 L383.9 360.12 L395.3 360.12 L406.7 360.12 L418.1 360.12 L429.5 360.12 L440.9 360.12 L452.3 360.12 L463.7 360.12 L475.1 360.12 L486.5 360.12 L497.9 360.12 L509.3 360.12 L520.7 360.12 L532.1 360.12 L543.5 359.96 L554.9 359.79 L566.3 359.3 L577.7 358.37 L589.1 355.65 L600.5 350.2 L611.9 335.82 L623.3 311.28 L634.7 274.8 L646.1 237.07 L657.5 216.27 L668.9 214 L680.3 211.73" stroke="#dc7486" stroke-width="1" fill="none" stroke-linejoin="round"/>
<path d="M349.7 360.45 L361.1 359.96 L372.5 359.48 L383.9 359.48 L395.3 359.48 L406.7 359.48 L418.1 359.48 L429.5 359.48 L440.9 359.48 L452.3 359.48 L463.7 359.48 L475.1 359.48 L486.5 359.48 L497.9 359.48 L509.3 359.48 L520.7 359.48 L532.1 359.48 L543.5 359.31 L554.9 359.15 L566.3 358.67 L577.7 357.45 L589.1 354.45 L600.5 348.38 L611.9 334.04 L623.3 308.45 L634.7 267.62 L646.1 231.66 L657.5 214 L668.9 214 L680.3 214" stroke="#5860c8" stroke-width="1" fill="none" stroke-linejoin="round"/>
<rect x="565.5" y="227" width="60.5" height="14" fill="#b8b8b8"/>
<rect x="565" y="226.5" width="59.9" height="13.4" fill="#fff" stroke="#333" stroke-width="1.1"/>
<text x="569" y="235.85" class="lb" textLength="51.3" lengthAdjust="spacingAndGlyphs" style="font-size:7.15px">Normal Control</text>
<rect x="562.4" y="251.3" width="63" height="14" fill="#b8b8b8"/>
<rect x="561.9" y="250.8" width="62.4" height="13.4" fill="#fff" stroke="#333" stroke-width="1.1"/>
<text x="568.8" y="260.15" class="lb" textLength="49.5" lengthAdjust="spacingAndGlyphs" style="font-size:7.15px">Carrier Control</text>
<rect x="545.2" y="271.9" width="62.4" height="13.4" fill="#000"/>
<text x="549.3" y="281.35" class="lbw" textLength="53.8" lengthAdjust="spacingAndGlyphs" style="font-size:7.9px">Paternal Sample</text>
<rect x="537.9" y="291.4" width="63.9" height="13.8" fill="#b8b8b8"/>
<rect x="537.4" y="290.9" width="63.3" height="13.2" fill="#fff" stroke="#333" stroke-width="1.1"/>
<text x="541.4" y="300.15" class="lb" textLength="54.4" lengthAdjust="spacingAndGlyphs" style="font-size:7.15px">Affected Control</text>
<rect x="532.3" y="323.4" width="64.9" height="14.1" fill="#b8b8b8"/>
<rect x="531.8" y="322.9" width="64.3" height="13.5" fill="#fff" stroke="#333" stroke-width="1.1"/>
<text x="535.5" y="332.3" class="lb" textLength="55.6" lengthAdjust="spacingAndGlyphs" style="font-size:7.15px">Negative Control</text>
<path d="M625.1 233.2L644.6 238.2" stroke="#262626" stroke-width="1.1"/>
<circle cx="644.6" cy="238.2" r="1.9" fill="#000"/>
<path d="M624.5 257.6L647.9 256.5" stroke="#262626" stroke-width="1.1"/>
<circle cx="647.9" cy="256.5" r="1.9" fill="#000"/>
<path d="M607.5 279L650.7 290.2" stroke="#262626" stroke-width="1.1"/>
<circle cx="650.7" cy="290.2" r="1.9" fill="#000"/>
<path d="M600.9 297.6L662.8 360.5" stroke="#262626" stroke-width="1.1"/>
<circle cx="662.8" cy="360.5" r="1.9" fill="#000"/>
<path d="M596.3 329.6L653.8 366.5" stroke="#262626" stroke-width="1.1"/>
<circle cx="653.8" cy="366.5" r="1.9" fill="#000"/>
</svg></body></html>
